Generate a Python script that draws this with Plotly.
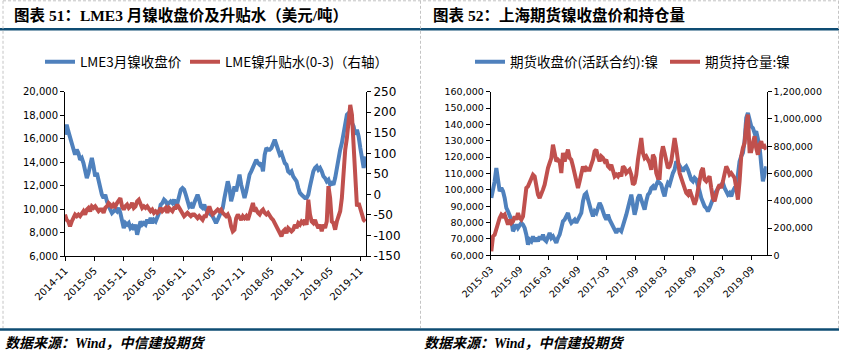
import pandas as pd
import plotly.graph_objects as go

# ---------------- data ----------------
# LME 3-month nickel close (USD/t), ~10-day samples from 2014-11 to 2019-12
lme_price = [
    16340, 17190, 16620, 16050, 15480, 15200, 14630, 15060, 14770, 14200,
    14350, 13920, 13210, 12640, 13070, 13920, 14350, 13640, 12790, 13070,
    12360, 11790, 11220, 10940, 11220, 10660, 10230, 9950, 9660, 9800,
    9950, 9800, 10090, 9660, 8950, 8380, 8810, 8670, 8810, 8380,
    8530, 8240, 8670, 7820, 8380, 8950, 8670, 8810, 8670, 9090,
    8810, 9240, 8810, 9090, 8950, 9240, 9660, 10370, 10510, 10800,
    10660, 10370, 10510, 10660, 10510, 10800, 10370, 10510, 11080, 11650,
    11790, 11650, 11220, 10510, 10230, 10370, 10090, 10510, 10940, 11220,
    10800, 10230, 10090, 10370, 9950, 9800, 9660, 9520, 9380, 9090,
    8810, 9090, 9380, 9660, 10090, 10940, 11790, 12360, 11790, 10660,
    11220, 11930, 11510, 12220, 12930, 12080, 11370, 10940, 11510, 12360,
    12930, 13210, 13500, 13780, 14200, 13920, 13780, 13920, 13210, 14630,
    15200, 15060, 15060, 15200, 15630, 15910, 15480, 15060, 14630, 14770,
    14200, 13920, 13780, 13210, 13070, 13210, 12790, 12500, 12360, 11790,
    11370, 11220, 11080, 10940, 10940, 11220, 11930, 12790, 13210, 13500,
    13640, 13350, 13500, 13210, 12790, 12640, 12360, 12500, 12080, 12220,
    12080, 12640, 13500, 14630, 15060, 15630, 16340, 17050, 18040, 18180,
    17610, 17330, 17050, 16340, 16760, 16190, 15200, 14200, 13500, 14490,
]
# LME nickel cash-3M spread (USD/t), right axis
lme_spread = [
    -49, -62, -66, -78, -66, -58, -49, -53, -49, -53,
    -45, -41, -49, -37, -33, -41, -29, -33, -29, -37,
    -41, -37, -37, -45, -33, -29, -21, -25, -33, -25,
    -29, -21, -13, -9, -29, -37, -29, -25, -33, -29,
    -21, -33, -29, -17, -13, -25, -33, -29, -33, -29,
    -37, -41, -37, -45, -41, -45, -41, -33, -41, -37,
    -33, -45, -33, -37, -41, -33, -33, -25, -33, -41,
    -45, -53, -49, -45, -49, -53, -49, -49, -53, -58,
    -53, -58, -62, -53, -53, -41, -29, -41, -49, -45,
    -41, -37, -41, -37, -45, -49, -53, -49, -58, -78,
    -90, -86, -58, -49, -58, -62, -53, -58, -53, -62,
    -49, -33, -21, -41, -37, -45, -49, -41, -37, -45,
    -49, -45, -53, -58, -62, -70, -82, -90, -98, -102,
    -90, -86, -94, -82, -86, -90, -86, -74, -82, -70,
    -74, -66, -70, -62, -74, -13, -49, -66, -70, -62,
    -74, -82, -74, -90, -74, -82, -66, 20, -9, -66,
    -70, -86, -66, -49, -41, -9, 56, 109, 137, 186,
    218, 194, 121, 15, -29, -21, -37, -49, -62, -66,
]
lme_start, lme_end, lme_axis_end = "2014-11-24", "2019-12-27", "2019-12-31"

# SHFE nickel active-contract close (CNY/t), ~10-day samples from 2015-03 to 2019-12
shfe_price = [
    95040, 99110, 105220, 113370, 107260, 99110, 101150, 99110, 95040, 88930,
    86890, 83840, 81800, 74670, 76710, 78740, 76710, 78740, 79760, 78740,
    76710, 72630, 66530, 69580, 68560, 71620, 68560, 70600, 68560, 71620,
    69580, 72630, 69580, 68560, 71620, 73650, 70600, 71620, 69580, 67540,
    70600, 72630, 76710, 80780, 81800, 83840, 85870, 81800, 79760, 80780,
    81800, 79760, 81800, 83840, 85870, 93000, 97070, 98090, 94020, 88930,
    86890, 83840, 86890, 85870, 89950, 91980, 89950, 85870, 83840, 81800,
    84850, 81800, 79760, 76710, 74670, 73650, 75690, 75690, 74670, 77730,
    80780, 84850, 88930, 94020,
    97070, 90960, 84850, 88930, 95040, 97070, 94020, 90960, 87910, 93000,
    97070, 98090, 101150, 102170, 100130, 103180, 105220, 104200, 103180, 99110,
    96060, 101150, 104200, 103180, 107260, 110310, 112350, 117440, 116430, 114390,
    112350, 111330, 113370, 114390, 112350, 109300, 106240, 105220, 107260, 106240,
    103180, 99110, 95040, 91980, 89950, 88930, 86890, 88930, 91980, 95040,
    97070, 99110, 101150, 102170, 103180, 104200, 101150, 99110, 97070, 98090,
    96060, 99110, 101150, 101150, 109300, 117440, 120500, 122540, 129670, 143930,
    146980, 141890, 138840, 137820, 134760, 135780, 131710, 126610, 115400, 105220,
    109300, 114390,
]
# SHFE nickel open interest (lots), right axis
shfe_oi = [
    29000, 138900, 151100, 200000, 236700, 273400, 297800, 285600, 297800, 261100,
    224400, 261100, 236700, 248900, 285600, 261100, 310100, 273400, 261100, 285600,
    420100, 493500, 505700, 530200, 566900, 591400, 579100, 493500, 444600, 420100,
    444600, 481300, 518000, 591400, 640300, 677000, 713600, 811500, 738100, 689200,
    701400, 689200, 603600, 750400, 689200, 738100, 774800, 713600, 701400, 652500,
    591400, 518000, 493500, 542400, 615800, 652500, 615800, 640300, 628000, 628000,
    664700, 701400, 762600, 774800, 725900, 689200, 725900, 713600, 689200, 701400,
    652500, 640300, 664700, 603600, 579100, 591400, 579100, 603600, 579100, 652500,
    640300, 603600, 615800, 628000,
    591400, 518000, 530200, 591400, 701400, 787000, 860400, 750400, 713600, 725900,
    701400, 677000, 628000, 738100, 713600, 603600, 566900, 566900, 738100, 799300,
    750400, 677000, 640300, 652500, 689200, 774800, 860400, 787000, 664700, 603600,
    566900, 530200, 493500, 456800, 444600, 481300, 444600, 407900, 371200, 407900,
    493500, 554700, 615800, 640300, 554700, 542400, 566900, 579100, 493500, 420100,
    395700, 456800, 493500, 518000, 493500, 542400, 603600, 652500, 628000, 591400,
    603600, 579100, 566900, 493500, 407900, 542400, 725900, 787000, 823700, 958200,
    1031500, 762600, 762600, 823700, 872600, 787000, 738100, 811500, 836000, 787000,
    799300, 774800,
]
shfe_start, shfe_end, shfe_axis_start, shfe_axis_end = "2015-03-31", "2019-12-28", "2015-03-27", "2019-12-31"

left_names = ["LME3月镍收盘价", "LME镍升贴水(0-3)（右轴）"]
right_names = ["期货收盘价(活跃合约):镍", "期货持仓量:镍"]
title_left = "图表 51：LME3 月镍收盘价及升贴水（美元/吨）"
title_right = "图表 52：上海期货镍收盘价和持仓量"
source_text = "数据来源：Wind，中信建投期货"

spread_ticks = [-150, -100, -50, 0, 50, 100, 150, 200, 250]

# ---------------- figure ----------------
W, H = 843, 353
def px(x): return x / W
def py(y): return 1 - y / H

BLUE, RED = "#4F81BD", "#C0504D"
RULE = "#0E4C73"
TICKFONT = "DejaVu Sans"
CJK = "Noto Sans CJK SC"
LW = 4

left_dates = pd.date_range(lme_start, lme_end, periods=len(lme_price))
right_dates = pd.date_range(shfe_start, shfe_end, periods=len(shfe_price))

lt0 = pd.Timestamp(lme_start)
left_ticks = [lt0 + pd.DateOffset(months=6 * k) for k in range(11)]
rt0 = pd.Timestamp(shfe_axis_start)
right_ticks = [rt0 + pd.DateOffset(months=6 * k) for k in range(10)]

fig = go.Figure()
fig.add_trace(go.Scatter(x=left_dates, y=lme_price, name=left_names[0], mode="lines",
                         line=dict(color=BLUE, width=LW), xaxis="x", yaxis="y", legend="legend"))
fig.add_trace(go.Scatter(x=left_dates, y=lme_spread, name=left_names[1], mode="lines",
                         line=dict(color=RED, width=LW), xaxis="x", yaxis="y2", legend="legend3"))
fig.add_trace(go.Scatter(x=right_dates, y=shfe_price, name=right_names[0], mode="lines",
                         line=dict(color=BLUE, width=LW), xaxis="x2", yaxis="y3", legend="legend2"))
fig.add_trace(go.Scatter(x=right_dates, y=shfe_oi, name=right_names[1], mode="lines",
                         line=dict(color=RED, width=LW), xaxis="x2", yaxis="y4", legend="legend4"))

def axstyle(size):
    return dict(showline=True, linecolor="black", linewidth=1, ticks="outside",
                ticklen=4, tickcolor="black", showgrid=False, zeroline=False,
                automargin=False,
                tickfont=dict(family=TICKFONT, size=size, color="black"))

def leg(xpix):
    return dict(orientation="h", x=px(xpix), y=py(62), xanchor="left", yanchor="middle",
                font=dict(family=CJK, size=13.5, color="black"), bgcolor="rgba(0,0,0,0)",
                tracegroupgap=0, itemwidth=30)

fig.update_layout(
    template="none",
    width=W, height=H,
    margin=dict(l=0, r=0, t=0, b=0, autoexpand=False),
    paper_bgcolor="white", plot_bgcolor="white",
    xaxis=dict(domain=[px(65), px(366)], anchor="y", type="date",
               range=[lme_start, lme_axis_end], tickvals=left_ticks,
               ticktext=[t.strftime("%Y-%m") for t in left_ticks], tickangle=-45, **axstyle(10)),
    yaxis=dict(domain=[py(256), py(91.7)], anchor="x", range=[6000, 20000], dtick=2000,
               tickformat=",d", **axstyle(10)),
    yaxis2=dict(overlaying="y", side="right", anchor="x", range=[-150, 250],
                tickvals=spread_ticks, ticktext=[str(v) for v in spread_ticks], **axstyle(12)),
    xaxis2=dict(domain=[px(490.7), px(766.7)], anchor="y3", type="date",
                range=[shfe_axis_start, shfe_axis_end], tickvals=right_ticks,
                ticktext=[t.strftime("%Y-%m") for t in right_ticks], tickangle=-45, **axstyle(9.5)),
    yaxis3=dict(domain=[py(255.3), py(91.7)], anchor="x2", range=[60000, 160000], dtick=10000,
                tickformat=",d", **axstyle(9.5)),
    yaxis4=dict(overlaying="y3", side="right", anchor="x2", range=[0, 1200000], dtick=200000,
                tickformat=",d", **axstyle(9.5)),
    legend=leg(40),
    legend3=leg(185),
    legend2=leg(470),
    legend4=leg(665),
    showlegend=True,
)

title_font = dict(family="Liberation Serif, " + CJK, size=15.5, color="black", weight="bold")
fig.add_annotation(text=title_left, x=px(12), y=py(15), xref="paper", yref="paper",
                   xanchor="left", yanchor="middle", showarrow=False, font=title_font)
fig.add_annotation(text=title_right, x=px(431), y=py(15), xref="paper", yref="paper",
                   xanchor="left", yanchor="middle", showarrow=False, font=title_font)
src_font = dict(family="Liberation Serif, " + CJK, size=14, color="black", weight="bold", style="italic")
fig.add_annotation(text=source_text, x=px(3), y=py(343), xref="paper", yref="paper",
                   xanchor="left", yanchor="middle", showarrow=False, font=src_font)
fig.add_annotation(text=source_text, x=px(422), y=py(343), xref="paper", yref="paper",
                   xanchor="left", yanchor="middle", showarrow=False, font=src_font)

# decorative rules and dashed panel borders
shapes = [
    dict(type="line", xref="paper", yref="paper", x0=0, x1=px(839), y0=py(29.3), y1=py(29.3),
         line=dict(color=RULE, width=2.5)),
    dict(type="line", xref="paper", yref="paper", x0=0, x1=px(839), y0=py(329.5), y1=py(329.5),
         line=dict(color=RULE, width=2.5)),
    dict(type="line", xref="paper", yref="paper", x0=px(3), x1=px(838.5), y0=py(0.8), y1=py(0.8),
         line=dict(color="#C4C4C4", width=1, dash="3px,2px")),
]
for xv in (3, 420.5, 838.5):
    shapes.append(dict(type="line", xref="paper", yref="paper", x0=px(xv), x1=px(xv),
                       y0=py(0.8), y1=py(328), line=dict(color="#C4C4C4", width=1, dash="3px,2px")))
fig.update_layout(shapes=shapes)

fig.write_html("out.html")
